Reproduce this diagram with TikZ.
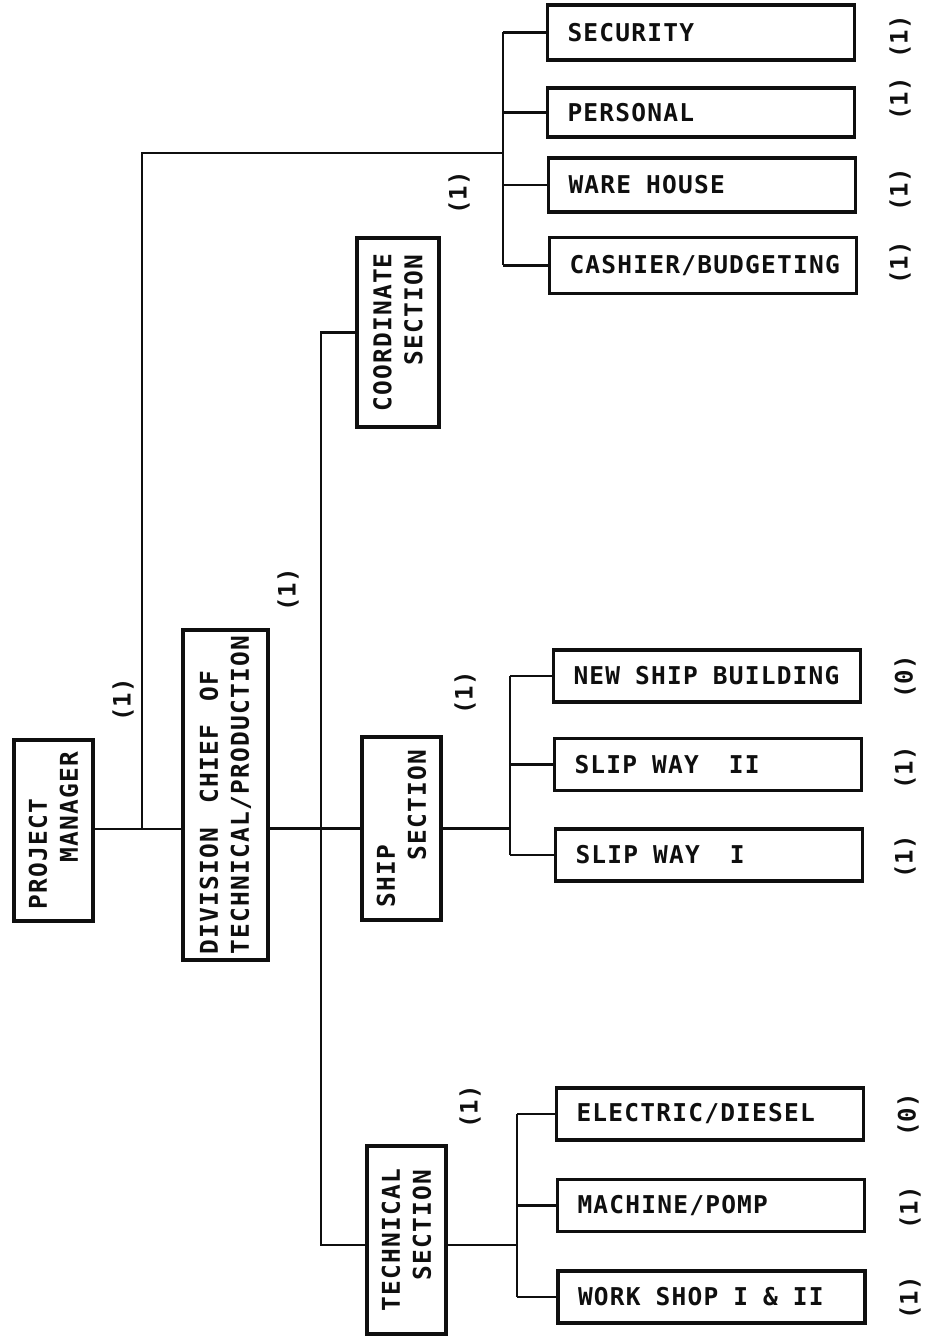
\documentclass[tikz,border=0pt]{standalone}
\usepackage{fontspec}
\newfontfamily\typer{DejaVu Sans Mono}[LetterSpace=5, WordSpace=1.5]
\newfontfamily\typerplain{DejaVu Sans Mono}
\usepackage{tikz}
\usetikzlibrary{positioning,calc}
\definecolor{ink}{RGB}{15,15,15}
\newcommand\wsp{\hspace*{15pt}}
\tikzset{
  unitbox/.style={rectangle, draw=ink, line width=3.2pt, fill=white,
                  font=\typer\bfseries\fontsize{24.5}{31}\selectfont,
                  inner sep=0pt, text=ink},
  hunit/.style={unitbox, minimum width=307pt, minimum height=52pt,
                text width=267pt, align=left},
  vunit/.style={unitbox, rotate=90, align=left},
  link/.style={draw=ink, line width=2.2pt},
  cnt/.style={font=\typerplain\bfseries\fontsize{24}{24}\selectfont, text=ink,
              rotate=90, inner sep=0pt},
}
\begin{document}
\begin{tikzpicture}[x=1pt, y=-1pt]
  \useasboundingbox (0,0) rectangle (927,1337);
  % left column (rotated: north is the left side, south the right side)
  \node[vunit, minimum width=181pt, minimum height=79pt] (pm) at (53.5,830.5)
       {PROJECT\\\phantom{XXX}MANAGER};
  \node[vunit, minimum width=330pt, minimum height=85pt] (div) at (225.5,795)
       {DIVISION CHIEF OF\\TECHNICAL/PRODUCTION};
  % sections
  \node[vunit, minimum width=189pt, minimum height=82pt] (coord) at (398,332.5)
       {COORDINATE\\\phantom{XXX}SECTION};
  \node[vunit, minimum width=183pt, minimum height=79pt] (ship) at (401.5,828.5)
       {SHIP\\\phantom{XXX}SECTION};
  \node[vunit, minimum width=188pt, minimum height=79pt] (tech) at (406.5,1240)
       {TECHNICAL\\\phantom{XX}SECTION};
  % units on the right
  \node[hunit, minimum height=55pt] (sec)  at (701,32.5)   {SECURITY};
  \node[hunit, minimum height=49pt] (pers) at (701,112.5)  {PERSONAL};
  \node[hunit, minimum height=54pt] (ware) at (702,185)    {WARE\wsp HOUSE};
  \node[hunit, minimum height=56pt] (cash) at (703,265.5)  {CASHIER/BUDGETING};
  \node[hunit] (nsb)  at (707,676)    {NEW\wsp SHIP\wsp BUILDING};
  \node[hunit] (sw2)  at (708,764.5)  {SLIP\wsp WAY\wsp\wsp II};
  \node[hunit] (sw1)  at (709,855)    {SLIP\wsp WAY\wsp\wsp I};
  \node[hunit] (elec) at (710,1114)   {ELECTRIC/DIESEL};
  \node[hunit] (mach) at (711,1205.5) {MACHINE/POMP};
  \node[hunit] (ws)   at (711.5,1297) {WORK\wsp SHOP\wsp I\wsp\&\wsp II};
  % junctions
  \coordinate (jpm) at (142,829);
  \coordinate (jtop) at (503,153);
  \coordinate (spine) at (321,828.5);
  \coordinate (sbus) at (510,828.5);
  \coordinate (tbus) at (517,1245);
  % connectors
  \draw[link] (pm.south |- jpm) -- (div.north |- jpm);
  \draw[link] (jpm) |- (jtop);
  \draw[link] (jtop |- sec.west) -- (jtop |- cash.west);
  \foreach \n in {sec,pers,ware,cash} \draw[link] (jtop |- \n.west) -- (\n.west);
  \draw[link] (div.south |- spine) -- (ship.north |- spine);
  \draw[link] (coord.north) -| (spine) |- (tech.north |- tbus);
  \draw[link] (ship.south |- sbus) -- (sbus);
  \draw[link] (sbus |- nsb.west) -- (sbus |- sw1.west);
  \foreach \n in {nsb,sw2,sw1} \draw[link] (sbus |- \n.west) -- (\n.west);
  \draw[link] (tech.south |- tbus) -- (tbus);
  \draw[link] (tbus |- elec.west) -- (tbus |- ws.west);
  \foreach \n in {elec,mach,ws} \draw[link] (tbus |- \n.west) -- (\n.west);
  % staff counts
  \node[cnt] (c0) at (123,700) {(1)};
  \node[cnt] (c1) at (288,590) {(1)};
  \node[cnt] (c2) at (459,193) {(1)};
  \node[cnt] (c3) at (465,693) {(1)};
  \node[cnt] (c4) at (470,1107) {(1)};
  \node[cnt] (c5) at (900,37) {(1)};
  \node[cnt] (c6) at (900,99) {(1)};
  \node[cnt] (c7) at (900,190) {(1)};
  \node[cnt] (c8) at (900,263) {(1)};
  \node[cnt] (c9) at (905,677) {(0)};
  \node[cnt] (c10) at (905,768) {(1)};
  \node[cnt] (c11) at (905,857) {(1)};
  \node[cnt] (c12) at (908,1115) {(0)};
  \node[cnt] (c13) at (910,1208) {(1)};
  \node[cnt] (c14) at (910,1298) {(1)};
\end{tikzpicture}
\end{document}
